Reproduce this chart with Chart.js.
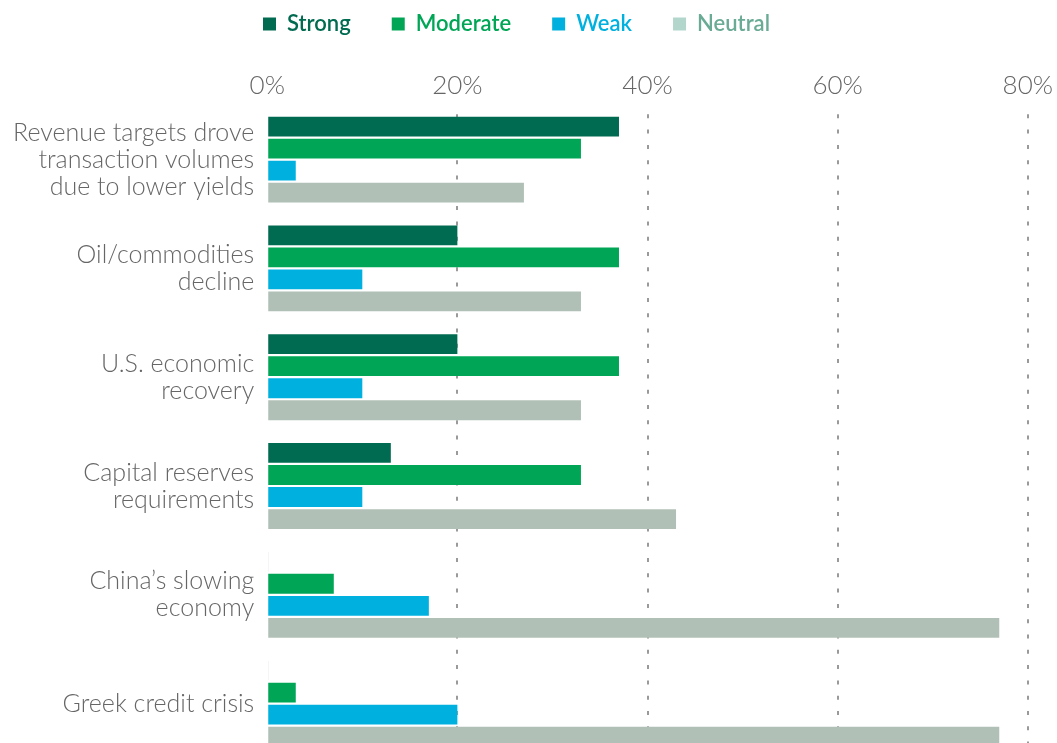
<!DOCTYPE html>
<html>
<head>
<meta charset="utf-8">
<script src="https://cdn.jsdelivr.net/npm/chart.js@4"></script>
<style>
  html, body { margin: 0; padding: 0; background: #fff; overflow: hidden; }
  #c { position: absolute; left: 0; top: -36px; width: 1057px; height: 797px; }
</style>
</head>
<body>
<canvas id="c" width="1057" height="797"></canvas>
<script>
// Survey drivers, share of respondents by strength of impact (%)
const categories = [
  ["Revenue targets drove", "transaction volumes", "due to lower yields"],
  ["Oil/commodities", "decline"],
  ["U.S. economic", "recovery"],
  ["Capital reserves", "requirements"],
  ["China\u2019s slowing", "economy"],
  ["Greek credit crisis"]
];
const seriesNames = ["Strong", "Moderate", "Weak", "Neutral"];
const strong   = [37, 20, 20, 13, 0.1, 0.1];
const moderate = [33, 37, 37, 33, 7, 3];
const weak     = [3, 10, 10, 10, 17, 20];
const neutral  = [27, 33, 33, 43, 77, 77];
const tickValues = [0, 20, 40, 60, 80];

const barColors    = ["#006b50", "#00a656", "#00b1df", "#b0c0b6"];
const legendBoxes  = ["#006b50", "#00a656", "#00b1df", "#b3d6cc"];
const legendTexts  = ["#006b50", "#00a656", "#00b1df", "#6aab96"];

const values = [strong, moderate, weak, neutral];

// Extra room between the legend and the percentage axis
const legendGap = {
  id: "legendGap",
  beforeInit(chart) {
    const fit = chart.legend.fit;
    chart.legend.fit = function () {
      fit.call(this);
      this.height += 21;
    };
  }
};

new Chart(document.getElementById("c"), {
  type: "bar",
  data: {
    labels: categories,
    datasets: seriesNames.map((name, i) => ({
      label: name,
      data: values[i],
      backgroundColor: barColors[i],
      borderWidth: 0,
      categoryPercentage: 0.81,
      barPercentage: 0.9
    }))
  },
  plugins: [legendGap],
  options: {
    indexAxis: "y",
    responsive: false,
    animation: false,
    layout: { padding: { left: 0, right: 24, top: 8, bottom: 3 } },
    plugins: {
      tooltip: { enabled: false },
      legend: {
        position: "top",
        align: "center",
        labels: {
          boxWidth: 13,
          boxHeight: 13,
          padding: 41,
          font: { family: "Lato", size: 22, weight: "600" },
          generateLabels(chart) {
            return chart.data.datasets.map((ds, i) => ({
              text: ds.label,
              fillStyle: legendBoxes[i],
              strokeStyle: legendBoxes[i],
              lineWidth: 0,
              fontColor: legendTexts[i],
              hidden: false,
              datasetIndex: i
            }));
          }
        }
      }
    },
    scales: {
      x: {
        position: "top",
        min: 0,
        max: 80,
        afterBuildTicks(scale) {
          scale.ticks = tickValues.map(v => ({ value: v }));
        },
        border: { display: false, dash: [4, 11.3], dashOffset: 6 },
        grid: {
          drawTicks: false,
          lineWidth: 2,
          color: (ctx) => (ctx.tick && ctx.tick.value === 0) ? "rgba(0,0,0,0)" : "#9a9a9a"
        },
        ticks: {
          padding: 4,
          color: "#666",
          font: { family: "Lato", size: 26, weight: "300" },
          callback: (v) => v + "%"
        }
      },
      y: {
        // multi-line labels should not pad the plot area vertically
        afterFit(scale) {
          scale.paddingTop = 0;
          scale.paddingBottom = 0;
        },
        border: { display: false },
        grid: { display: false, drawTicks: false },
        ticks: {
          padding: 13,
          color: "#666",
          font: { family: "Lato", size: 25, weight: "300", lineHeight: 1.08 }
        }
      }
    }
  }
});
</script>
</body>
</html>
